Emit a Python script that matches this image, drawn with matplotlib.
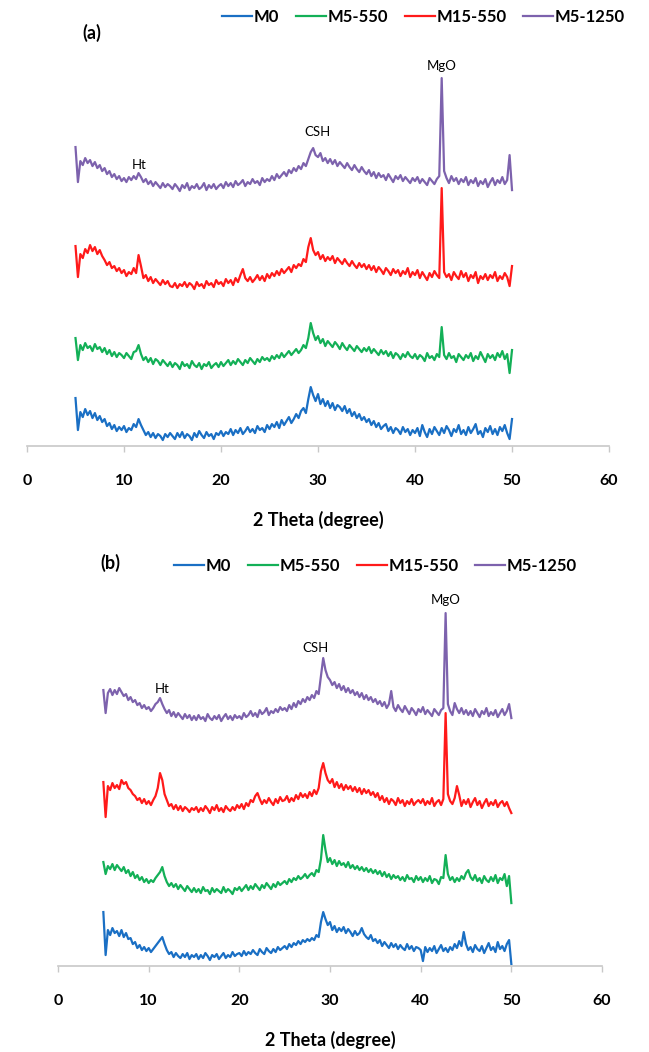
import matplotlib.pyplot as plt
import numpy as np

plt.rcParams['font.family'] = ['Lato', 'DejaVu Sans']

# 2 theta grid, 5..50 step 0.25
two_theta = np.arange(5, 50.001, 0.25)

names = ['M0', 'M5-550', 'M15-550', 'M5-1250']
colors = ['#1a6fc4', '#13b057', '#ff1a1a', '#7d62ad']

# panel (a) - stacked intensity (a.u.)
a_m0 = [48, 16, 34, 29, 37, 31, 35, 28, 33, 26, 30, 24, 27, 20, 23, 17, 21, 15, 19, 16,
        20, 14, 18, 16, 22, 19, 27, 21, 16, 11, 14, 9, 13, 8, 12, 10, 6, 12, 9, 13,
        10, 7, 13, 9, 14, 8, 12, 10, 6, 13, 9, 15, 11, 8, 14, 10, 12, 7, 13, 11,
        15, 10, 14, 12, 17, 11, 16, 13, 18, 12, 15, 19, 14, 17, 13, 20, 16, 18, 14, 21,
        17, 22, 19, 24, 18, 26, 21, 25, 29, 23, 27, 32, 28, 35, 38, 33, 47, 59, 51, 45,
        52, 42, 47, 40, 45, 38, 43, 36, 41, 39, 35, 40, 33, 37, 30, 34, 28, 32, 26, 29,
        24, 27, 21, 25, 19, 23, 17, 20, 22, 15, 19, 13, 18, 16, 12, 19, 14, 17, 11, 16,
        13, 18, 10, 21, 14, 9, 17, 12, 19, 15, 11, 18, 13, 20, 16, 10, 17, 14, 21, 12,
        16, 11, 19, 13, 17, 22, 12, 15, 9, 18, 14, 20, 12, 17, 11, 19, 15, 21, 13, 7,
        27]
a_m5_550 = [108, 86, 101, 96, 103, 98, 100, 95, 102, 97, 99, 94, 98, 92, 96, 90, 94, 89, 93, 91,
            88, 93, 90, 87, 94, 95, 101, 92, 86, 89, 84, 88, 82, 87, 85, 81, 86, 83, 80, 84,
            79, 83, 81, 77, 84, 80, 82, 78, 85, 81, 79, 83, 77, 82, 80, 84, 78, 81, 83, 79,
            84, 80, 83, 86, 81, 85, 82, 87, 84, 81, 86, 83, 88, 85, 82, 87, 84, 89, 86, 88,
            85, 90, 87, 91, 88, 93, 89, 92, 95, 91, 94, 97, 93, 96, 101, 98, 108, 123, 113, 106,
            110, 103, 107, 100, 105, 102, 99, 104, 101, 97, 103, 99, 96, 101, 98, 95, 100, 97, 94, 98,
            95, 99, 93, 97, 94, 91, 96, 92, 95, 90, 94, 88, 93, 91, 87, 92, 89, 94, 90, 88,
            92, 87, 91, 89, 85, 93, 88, 90, 86, 92, 89, 119, 91, 87, 93, 88, 90, 84, 92, 89,
            86, 91, 88, 93, 85, 90, 87, 94, 89, 84, 92, 88, 91, 86, 93, 89, 95, 87, 92, 73,
            96]
a_m15_550 = [200, 169, 192, 188, 197, 193, 201, 195, 199, 192, 196, 190, 186, 181, 184, 178, 180, 175, 178, 173,
             176, 170, 174, 172, 178, 173, 191, 180, 168, 171, 165, 169, 163, 167, 164, 161, 166, 162, 165, 160,
             159, 163, 158, 162, 160, 164, 159, 163, 161, 157, 164, 160, 162, 158, 165, 161, 163, 159, 166, 162,
             164, 160, 167, 163, 166, 161, 168, 164, 171, 177, 168, 165, 169, 164, 167, 171, 166, 170, 165, 172,
             168, 173, 170, 175, 171, 177, 173, 176, 179, 174, 181, 178, 182, 180, 187, 184, 199, 208, 196, 191,
             194, 187, 191, 185, 189, 186, 190, 183, 188, 185, 182, 187, 183, 180, 185, 181, 178, 183, 179, 182,
             177, 181, 176, 180, 174, 179, 176, 172, 178, 175, 171, 177, 173, 176, 170, 175, 172, 178, 169, 174,
             171, 176, 168, 174, 170, 166, 173, 169, 175, 171, 168, 258, 174, 169, 172, 166, 174, 170, 167, 175,
             169, 173, 165, 171, 168, 174, 163, 170, 167, 172, 166, 171, 168, 174, 165, 170, 167, 173, 169, 160,
             180]
a_m5_1250 = [299, 264, 285, 281, 288, 283, 286, 280, 284, 278, 281, 275, 278, 272, 275, 269, 272, 267, 270, 265,
             268, 264, 269, 266, 270, 267, 273, 269, 264, 267, 262, 265, 260, 264, 261, 258, 263, 259, 262, 260,
             257, 262, 259, 255, 261, 258, 263, 256, 260, 258, 262, 257, 259, 263, 256, 261, 258, 262, 257, 260,
             262, 258, 264, 260, 263, 259, 265, 261, 263, 266, 260, 264, 262, 267, 263, 265, 261, 268, 264, 267,
             265, 270, 266, 272, 268, 271, 274, 270, 276, 273, 278, 275, 280, 277, 283, 280, 287, 294, 298, 291,
             289, 293, 285, 288, 283, 287, 282, 286, 280, 284, 281, 278, 283, 279, 276, 281, 277, 274, 279, 275,
             272, 276, 270, 274, 268, 273, 269, 271, 266, 272, 268, 264, 270, 267, 271, 265, 269, 266, 263, 268,
             265, 269, 263, 267, 264, 261, 268, 265, 262, 267, 270, 368, 275, 268, 263, 270, 265, 268, 262, 267,
             264, 269, 261, 266, 263, 268, 260, 265, 262, 267, 259, 264, 268, 261, 266, 263, 269, 262, 266, 291,
             256]

# panel (b)
b_m0 = [54, 11, 36, 31, 38, 33, 35, 30, 36, 29, 33, 27, 28, 22, 24, 18, 21, 16, 19, 15,
        18, 14, 17, 20, 23, 26, 29, 22, 16, 12, 14, 9, 13, 10, 8, 12, 9, 13, 7, 11,
        9, 12, 7, 11, 8, 13, 10, 6, 11, 9, 12, 7, 10, 13, 8, 11, 9, 14, 10, 12,
        13, 10, 15, 11, 14, 12, 16, 13, 11, 17, 14, 12, 18, 15, 13, 17, 14, 19, 16, 18,
        20, 17, 22, 19, 23, 21, 25, 22, 26, 24, 27, 25, 28, 26, 31, 29, 44, 54, 47, 41,
        44, 36, 40, 34, 38, 35, 39, 33, 37, 34, 30, 35, 31, 33, 38, 32, 29, 27, 31, 25,
        27, 23, 26, 20, 24, 21, 18, 23, 19, 22, 17, 21, 18, 16, 22, 17, 20, 15, 19, 18,
        16, 5, 19, 14, 18, 15, 20, 13, 17, 21, 15, 18, 14, 19, 16, 22, 18, 25, 20, 34,
        22, 16, 19, 14, 21, 17, 15, 20, 13, 18, 23, 16, 19, 14, 24, 17, 20, 15, 22, 26,
        2]
b_m5_550 = [104, 92, 100, 97, 102, 96, 101, 98, 95, 99, 93, 96, 90, 94, 88, 91, 86, 89, 84, 87,
            83, 86, 84, 88, 91, 94, 99, 90, 84, 80, 83, 79, 82, 77, 81, 78, 75, 80, 77, 74,
            78, 74, 77, 73, 79, 75, 76, 72, 78, 74, 77, 75, 73, 79, 74, 77, 75, 72, 78, 76,
            79, 75, 78, 81, 76, 80, 77, 82, 79, 76, 81, 78, 83, 80, 77, 82, 79, 84, 81, 83,
            85, 82, 87, 84, 88, 86, 90, 87, 89, 92, 88, 91, 93, 90, 96, 94, 107, 131, 116, 104,
            108, 102, 106, 100, 105, 101, 103, 99, 104, 98, 101, 97, 100, 96, 99, 95, 98, 94, 97, 93,
            96, 92, 95, 90, 94, 89, 92, 87, 91, 88, 90, 86, 89, 85, 91, 87, 88, 84, 90, 86,
            89, 84, 88, 85, 90, 83, 87, 86, 82, 89, 88, 111, 92, 86, 89, 84, 88, 85, 90, 87,
            93, 96, 89, 86, 91, 85, 88, 83, 90, 86, 84, 89, 85, 91, 83, 88, 86, 92, 80, 90,
            63]
b_m15_550 = [184, 149, 180, 176, 183, 178, 181, 177, 186, 182, 184, 178, 176, 172, 170, 166, 168, 163, 167, 162,
             165, 161, 166, 170, 178, 193, 186, 172, 166, 160, 162, 157, 161, 156, 160, 155, 159, 157, 154, 158,
             156, 159, 154, 158, 155, 160, 157, 153, 159, 156, 161, 155, 158, 154, 160, 157, 155, 159, 156, 161,
             158, 162, 157, 163, 160, 166, 164, 170, 173, 167, 162, 166, 163, 168, 164, 161, 167, 163, 169, 165,
             166, 170, 164, 168, 165, 171, 167, 173, 169, 172, 168, 174, 170, 176, 172, 178, 195, 203, 193, 186,
             183, 187, 179, 184, 178, 182, 176, 181, 177, 180, 175, 179, 174, 178, 172, 177, 173, 176, 171, 174,
             169, 173, 166, 170, 164, 168, 162, 167, 165, 161, 168, 163, 166, 160, 165, 162, 167, 161, 164, 166,
             163, 167, 161, 165, 162, 168, 160, 164, 166, 161, 167, 253, 172, 165, 162, 168, 180, 171, 160, 166,
             162, 167, 159, 164, 168, 161, 165, 158, 163, 167, 160, 164, 161, 166, 159, 163, 165, 160, 164, 158,
             153]
b_m5_1250 = [276, 253, 273, 277, 271, 276, 272, 278, 274, 270, 272, 266, 269, 264, 266, 261, 263, 258, 261, 257,
             259, 255, 258, 262, 264, 268, 262, 257, 253, 256, 250, 254, 249, 253, 250, 247, 252, 248, 251, 246,
             250, 246, 251, 247, 249, 245, 252, 248, 246, 250, 247, 251, 245, 249, 252, 247, 250, 246, 251, 248,
             250, 247, 253, 249, 251, 255, 250, 253, 249, 256, 252, 254, 258, 251, 255, 253, 257, 254, 259, 256,
             258, 255, 261, 257, 263, 259, 265, 262, 267, 264, 269, 266, 271, 268, 275, 272, 290, 308, 296, 289,
             286, 281, 284, 278, 282, 276, 280, 274, 278, 273, 276, 271, 274, 269, 273, 267, 271, 266, 269, 264,
             267, 262, 265, 260, 264, 258, 262, 275, 259, 255, 261, 257, 254, 260, 256, 252, 258, 255, 251, 257,
             254, 259, 252, 256, 253, 250, 257, 254, 251, 256, 258, 353, 262, 255, 251, 263, 257, 253, 258, 252,
             256, 251, 255, 250, 257, 253, 249, 255, 252, 258, 250, 254, 251, 256, 249, 253, 257, 251, 255, 262,
             248]

panel_a = [a_m0, a_m5_550, a_m15_550, a_m5_1250]
panel_b = [b_m0, b_m5_550, b_m15_550, b_m5_1250]

fig = plt.figure(figsize=(6.49, 10.52), dpi=100)
ax1 = fig.add_axes([0.0416, 0.5760, 0.8968, 0.3859])
ax2 = fig.add_axes([0.0894, 0.0817, 0.8382, 0.3574])


def style(ax, ytop):
    ax.set_xlim(0, 60)
    ax.set_ylim(0, ytop)
    ax.set_xticks(np.arange(0, 61, 10))
    ax.set_yticks([])
    for s in ['left', 'right', 'top']:
        ax.spines[s].set_visible(False)
    ax.spines['bottom'].set_color('#c8c8c8')
    ax.spines['bottom'].set_linewidth(1.2)
    ax.tick_params(axis='x', length=4, width=1, color='#c8c8c8', pad=16,
                   labelsize=11.5, labelcolor='black')
    for t in ax.get_xticklabels():
        t.set_fontweight('bold')
    ax.patch.set_alpha(0)


for ax, data, ytop in [(ax1, panel_a, 406), (ax2, panel_b, 376)]:
    for vals, c, n in zip(data, colors, names):
        ax.plot(two_theta, vals, color=c, lw=1.6, label=n)
    style(ax, ytop)

# peak labels
ax1.text(42.8, 380, 'MgO', ha='center', va='center', fontsize=9.5)
ax1.text(29.9, 314, 'CSH', ha='center', va='center', fontsize=9.5)
ax1.text(11.6, 281, 'Ht', ha='center', va='center', fontsize=9.5)
ax2.text(42.8, 366, 'MgO', ha='center', va='center', fontsize=9.5)
ax2.text(28.4, 318, 'CSH', ha='center', va='center', fontsize=9.5)
ax2.text(11.5, 277, 'Ht', ha='center', va='center', fontsize=9.5)

fig.text(92 / 649, 1 - 33 / 1052, '(a)', ha='center', va='center', fontsize=13, fontweight='bold')
fig.text(110 / 649, 1 - 563 / 1052, '(b)', ha='center', va='center', fontsize=13, fontweight='bold')

fig.text(318 / 649, 1 - 520 / 1052, '2 Theta (degree)', ha='center', va='center',
         fontsize=13, fontweight='bold')
fig.text(330 / 649, 1 - 1040 / 1052, '2 Theta (degree)', ha='center', va='center',
         fontsize=13, fontweight='bold')

for ax, cx, cy in [(ax1, 423.5, 17), (ax2, 375.5, 566)]:
    ax.legend(loc='center', bbox_to_anchor=(cx / 649, 1 - cy / 1052),
              bbox_transform=fig.transFigure, ncol=4, frameon=False,
              prop={'size': 12, 'weight': 'bold'}, handlelength=1.8,
              handletextpad=0.1, columnspacing=1.0, borderaxespad=0)

plt.savefig('out.png', dpi=100)
